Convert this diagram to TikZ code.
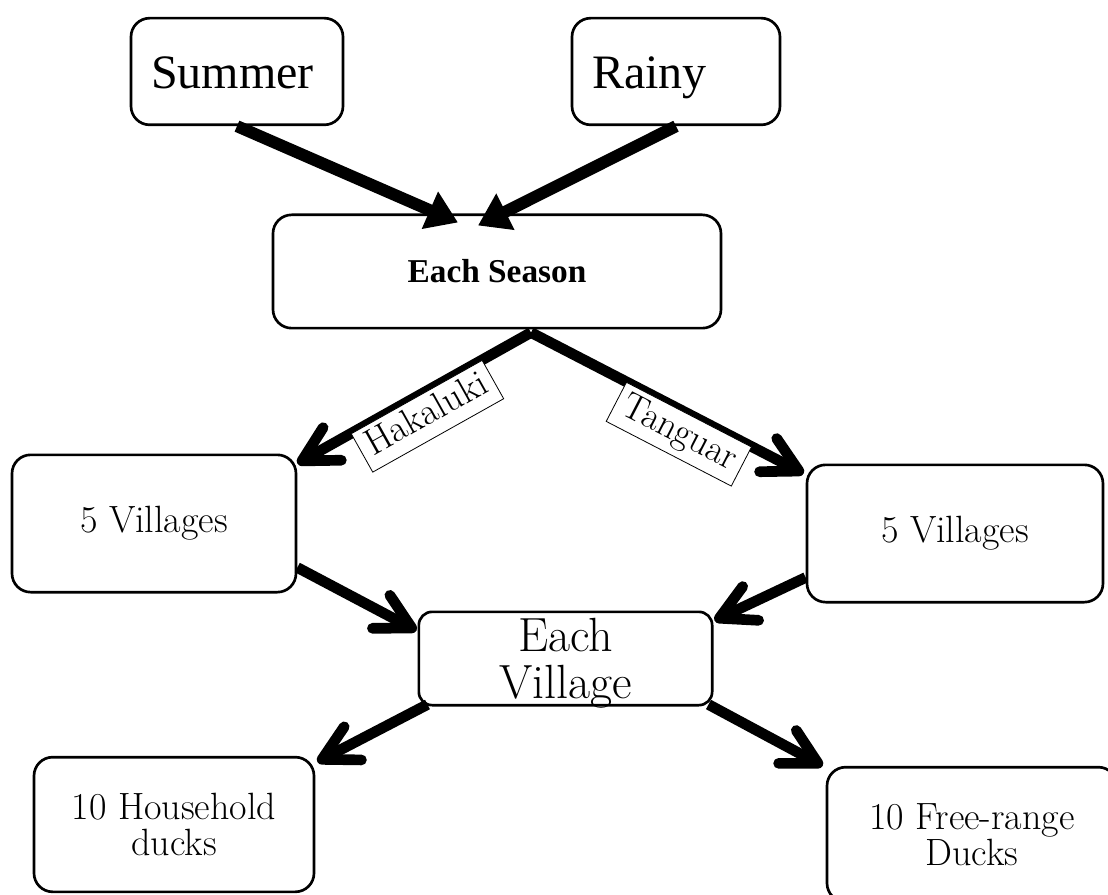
\documentclass[tikz,border=0pt]{standalone}
\usepackage{fontspec}
\usetikzlibrary{arrows.meta,calc}
\newfontfamily\timesfont{Liberation Serif}
\tikzset{
  box/.style  ={draw, line width=2pt, rounded corners=14pt, align=center,
                inner sep=0pt, font=\fontsize{28.5}{27}\selectfont},
  boxt/.style ={box, align=left, inner xsep=15pt, text height=26pt,
                text depth=1pt, font=\timesfont\fontsize{36}{40}\selectfont},
  ar/.style   ={-{Straight Barb[length=26pt, width=28pt, round]},
                line width=8pt},
  art/.style  ={-{Triangle[length=23pt, width=29pt]}, line width=9pt},
  tag/.style  ={draw, fill=white, line width=0.6pt, sloped, below,
                inner xsep=6pt, inner ysep=3pt, text height=20pt,
                text depth=7pt, font=\fontsize{28}{30}\selectfont}
}
\begin{document}
\begin{tikzpicture}[x=0.75pt, y=-0.75pt]
\useasboundingbox (0,0) rectangle (1108,895);
% seasons
\node[boxt, minimum height=80pt, text width=129pt] (summer) at (237,71.5) {Summer};
\node[boxt, minimum height=80pt, text width=126pt] (rainy) at (676,71.5) {Rainy};
\node[box, minimum width=336pt, minimum height=85pt,
      font=\timesfont\bfseries\fontsize{25}{28}\selectfont] (season)
      at (497,271.5) {Each Season};
% villages
\node[box, minimum width=213pt, minimum height=103pt] (lv) at (154,523.5) {5 Villages};
\node[box, minimum width=222pt, minimum height=103pt] (rv) at (955,533.5) {5 Villages};
\node[box, minimum width=220pt, minimum height=70pt, rounded corners=10pt] (vil)
      at (565.5,658.5) {};
\node[font=\fontsize{36}{35}\selectfont, align=center, inner sep=0pt] (vil-txt)
      at ($(vil.center)+(0,5)$) {Each\\Village};
% ducks
\node[box, minimum width=210pt, minimum height=101pt] (hh) at (174,824.5) {10 Household\\ducks};
\node[box, minimum width=217.5pt, minimum height=101pt] (fr) at (972,834.5) {10 Free-range\\Ducks};

\draw[art] (summer.south) -- ($(season.north)+(-39,9)$);
\draw[art] (rainy.south) -- ($(season.north)+(-19,12)$);
\coordinate (fork) at ($(season.south)+(34,3)$);
\draw[ar] (fork) -- ($(lv.north east)+(0,10)$) node[tag, pos=0.49] {Hakaluki};
\draw[ar] (fork) -- ($(rv.north west)+(-2,10)$) node[tag, pos=0.58] {Tanguar};
\draw[ar] ($(lv.east)+(0,44)$) -- ($(vil.north west)+(-1,20)$);
\draw[ar] ($(rv.west)+(0,44)$) -- ($(vil.north east)+(1,10)$);
\draw[ar] ($(vil.south west)+(10,-2)$) -- ($(hh.north east)+(2,6)$);
\draw[ar] ($(vil.south east)+(-5,-2)$) -- ($(fr.north west)+(-3,0)$);
\end{tikzpicture}
\end{document}
